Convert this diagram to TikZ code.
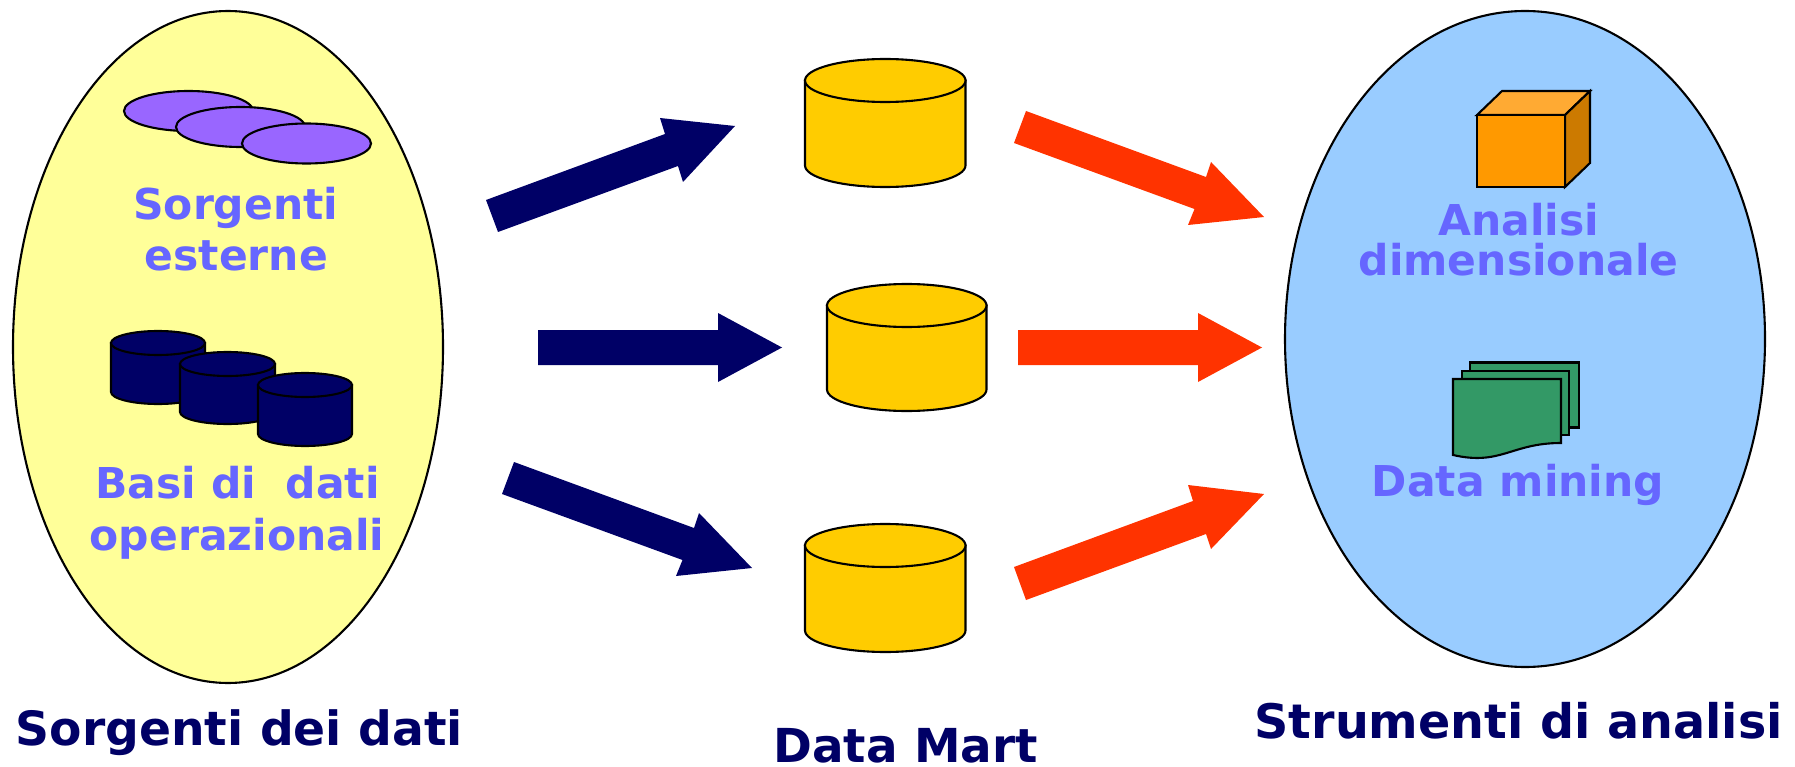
\documentclass[tikz,border=0pt]{standalone}
\usepackage{fontspec}
\setmainfont{DejaVu Sans}
\usetikzlibrary{shapes.geometric}
\definecolor{navy}{HTML}{000066}
\definecolor{redor}{HTML}{FF3300}
\definecolor{lila}{HTML}{6666FF}
\definecolor{pale}{HTML}{FFFF99}
\definecolor{sky}{HTML}{99CCFF}
\definecolor{purp}{HTML}{9966FF}
\definecolor{gold}{HTML}{FFCC00}
\definecolor{dataG}{HTML}{339966}
\definecolor{boxF}{HTML}{FF9900}
\definecolor{boxT}{HTML}{FFAA33}
\definecolor{boxS}{HTML}{CC7A00}
\tikzset{
  outl/.style={draw=black,line width=2.1pt,line join=miter},
  region/.style={ellipse,outl,inner sep=0pt,outer sep=0pt},
  disk/.style={ellipse,outl,fill=purp,inner sep=0pt,outer sep=0pt,minimum width=129pt,minimum height=40pt},
  sublabel/.style={text=lila,font=\fontsize{42.5}{42.5}\selectfont\bfseries,anchor=base,inner sep=0pt},
  title/.style={text=navy,font=\fontsize{47.2}{50}\selectfont\bfseries,anchor=base,inner sep=0pt},
  navyarrow/.style={fill=navy,draw=none},
  redarrow/.style={fill=redor,draw=none}
}
% #1 name, #2 left, #3 top, #4 right, #5 bottom, #6 ry, #7 colour
\newcommand{\drum}[7]{%
  \path[outl,fill=#7] (#2,#3+#6) -- (#2,#5-#6)
     arc[start angle=180,end angle=0,x radius={(#4-#2)/2},y radius=#6]
     -- (#4,#3+#6) -- cycle;
  \node[ellipse,outl,fill=#7,inner sep=0pt,outer sep=0pt,minimum width={(#4-#2)*1pt},minimum height={2*#6*1pt}] (#1) at ({(#2+#4)/2},#3+#6) {};
}
\begin{document}
\begin{tikzpicture}[x=1pt,y=-1pt]
\useasboundingbox (0,0) rectangle (1795,767);
% regions
\node[region,fill=pale,minimum width=430pt,minimum height=672pt] (src) at (228,347) {};
\node[region,fill=sky,minimum width=480pt,minimum height=656pt] (tools) at (1525,339) {};
% external sources
\node[disk] (d1) at (188.5,111) {};
\node[disk] (d2) at (240.5,127) {};
\node[disk] (d3) at (306.5,143.5) {};
\node[sublabel] (ext1) at (235.8,220) {Sorgenti};
\node[sublabel] (ext2) at (236.4,270) {esterne};
% operational databases
\drum{c1}{111}{331}{205}{404}{12}{navy}
\drum{c2}{180}{352}{275}{424}{12}{navy}
\drum{c3}{258}{373}{352}{446}{12}{navy}
\node[sublabel] (op1) at (237.5,498.5) {Basi di\ \ dati};
\node[sublabel] (op2) at (237,550) {operazionali};
% data marts
\drum{m1}{805}{59}{965.5}{187}{21.5}{gold}
\drum{m2}{827}{284}{986.5}{411}{21.5}{gold}
\drum{m3}{805}{524}{965.5}{652}{21.5}{gold}
% navy arrows
\fill[navyarrow] (486,200) -- (665,134) -- (660,118) -- (735,126) -- (683,182) -- (678,166) -- (498,232) -- cycle;
\fill[navyarrow] (538,330) -- (718,330) -- (718,313) -- (782,347.5) -- (718,382) -- (718,365) -- (538,365) -- cycle;
\fill[navyarrow] (514,462) -- (694,528) -- (699,513) -- (752,568) -- (676,576) -- (682.5,560) -- (502,494) -- cycle;
% red arrows
\fill[redarrow] (1026,111) -- (1206,177) -- (1211,162) -- (1264,217) -- (1188,225) -- (1194.5,209) -- (1014,143) -- cycle;
\fill[redarrow] (1018,330) -- (1198,330) -- (1198,313) -- (1262,347.5) -- (1198,382) -- (1198,365) -- (1018,365) -- cycle;
\fill[redarrow] (1014,567) -- (1193,501) -- (1188,485) -- (1264,494) -- (1211,549) -- (1206,534) -- (1026,600) -- cycle;
% cube
\path[outl,fill=boxT] (1477,115) -- (1502,91) -- (1590,91) -- (1565,115) -- cycle;
\path[outl,fill=boxS] (1565,115) -- (1590,91) -- (1590,163) -- (1565,187) -- cycle;
\path[outl,fill=boxF] (1477,115) rectangle (1565,187);
\node[sublabel] (an1) at (1518.6,235.5) {Analisi};
\node[sublabel] (an2) at (1518.5,276) {dimensionale};
% documents
\path[outl,fill=dataG] (1470,362.5) rectangle (1579,427.5);
\path[outl,fill=dataG] (1462,371) rectangle (1569,435);
\path[outl,fill=dataG] (1453,379) -- (1561,379) -- (1561,443) .. controls (1511,443) and (1501,466) .. (1453,455) -- cycle;
\node[sublabel] (dm) at (1518,496) {Data mining};
% titles
\node[title] (t1) at (239.3,745) {Sorgenti dei dati};
\node[title,font=\fontsize{46.8}{50}\selectfont\bfseries] (t2) at (905.5,762) {Data Mart};
\node[title,font=\fontsize{47.6}{50}\selectfont\bfseries] (t3) at (1518.6,738) {Strumenti di analisi};
\end{tikzpicture}
\end{document}
